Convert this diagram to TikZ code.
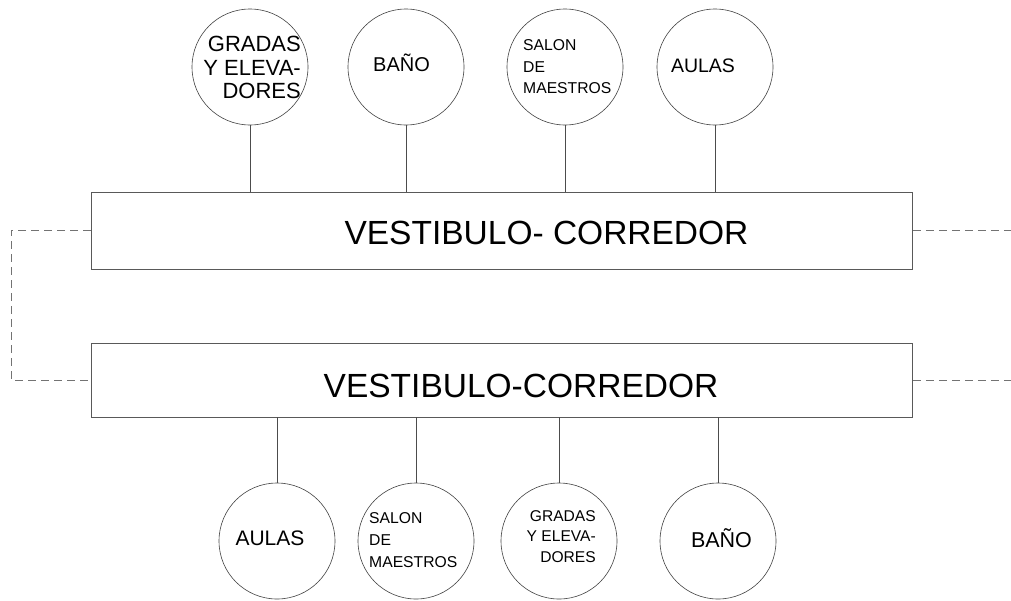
\documentclass[tikz,border=0pt]{standalone}
\usepackage{fontspec}
\setmainfont{Liberation Sans}
\begin{document}
\begin{tikzpicture}[x=1pt,y=-1pt,
  box/.style={draw=black!65,line width=0.9pt,minimum width=821pt,inner sep=0pt},
  circ/.style={draw=black!75,line width=0.6pt,circle,minimum size=116pt,inner sep=0pt},
  conn/.style={draw=black!70,line width=0.7pt},
  dashline/.style={draw=black!55,line width=0.8pt,dash pattern=on 8pt off 5pt},
  txt/.style={inner sep=0pt,font=\fontsize{#1}{#1}\selectfont},
  mtxt/.style 2 args={inner sep=0pt,font=\fontsize{#1}{#2}\selectfont}]
\useasboundingbox (0,0) rectangle (1011,600);
% corridors
\node[box,minimum height=77pt] (r1) at (502,230.5) {};
\node[box,minimum height=74pt] (r2) at (502,380) {};
\node[txt=33.5] (t1) at (546.5,232.5) {VESTIBULO- CORREDOR};
\node[txt=33.5] (t2) at (521,385.5) {VESTIBULO-CORREDOR};
% top circles
\node[circ] (c1) at (250,67) {};
\node[circ] (c2) at (406,67) {};
\node[circ] (c3) at (565,67) {};
\node[circ] (c4) at (715,67) {};
\node[mtxt={22}{23.5},align=right,anchor=north east] (tc1) at (301,36) {GRADAS\\Y ELEVA-\\DORES};
\node[txt=20,anchor=base] (tc2) at (401.5,71) {BAÑO};
\node[mtxt={15.7}{21.5},align=left,anchor=north west] (tc3) at (523,39.5) {SALON\\DE\\MAESTROS};
\node[txt=19.5,anchor=base] (tc4) at (703,72) {AULAS};
% bottom circles
\node[circ] (d1) at (277,541) {};
\node[circ] (d2) at (416,541) {};
\node[circ] (d3) at (559,541) {};
\node[circ] (d4) at (718,541) {};
\node[txt=21,anchor=base] (td1) at (270,545) {AULAS};
\node[mtxt={15.7}{22},align=left,anchor=north west] (td2) at (369,512.5) {SALON\\DE\\MAESTROS};
\node[mtxt={15.6}{20.5},align=right,anchor=north east] (td3) at (596,510) {GRADAS\\Y ELEVA-\\DORES};
\node[txt=21.5,anchor=base] (td4) at (721.5,547) {BAÑO};
% connectors
\foreach \c in {c1,c2,c3,c4}{\draw[conn] (\c.south) -- (\c.south |- r1.north);}
\foreach \c in {d1,d2,d3,d4}{\draw[conn] (\c.north) -- (\c.north |- r2.south);}
% dashed links
\coordinate (lx) at (11,300);
\coordinate (rx) at (1011,300);
\draw[dashline] (r1.west) -- (r1.west -| lx) -- (r2.west -| lx) -- (r2.west);
\draw[dashline] (r1.east) -- (r1.east -| rx);
\draw[dashline] (r2.east) -- (r2.east -| rx);
\end{tikzpicture}
\end{document}
